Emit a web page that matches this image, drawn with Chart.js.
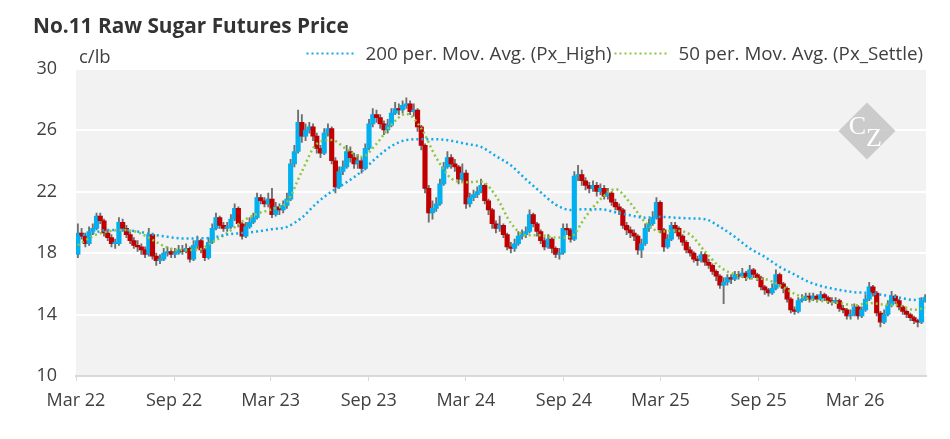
<!DOCTYPE html>
<html><head><meta charset="utf-8">
<script src="https://cdn.jsdelivr.net/npm/chart.js@4.4.1/dist/chart.umd.min.js"></script>
<style>html,body{margin:0;padding:0;background:#fff}#wrap{width:950px;height:439px}</style>
</head><body><div id="wrap"><canvas id="c" width="950" height="439"></canvas></div>
<script>
const chartTitle = 'No.11 Raw Sugar Futures Price';
const unitLabel = 'c/lb';
const seriesNames = ['200 per. Mov. Avg. (Px_High)', '50 per. Mov. Avg. (Px_Settle)'];
const startDate = '2022-03-01';
const endDate = '2026-07-12';
const tickDates = ['2022-03-01','2022-09-01','2023-03-01','2023-09-01','2024-03-01','2024-09-01','2025-03-01','2025-09-01','2026-03-01'];
const tickLabels = ['Mar 22','Sep 22','Mar 23','Sep 23','Mar 24','Sep 24','Mar 25','Sep 25','Mar 26'];
const yTicks = [10,14,18,22,26,30];

// weekly candles (week 0 = week starting 2022-03-01)
const openPx = [17.9,19.3,19.1,18.6,19.4,19.6,20.4,20.1,19.3,19.0,
18.6,18.6,20.0,19.6,19.2,18.8,18.5,18.4,18.2,17.9,
19.2,17.8,17.5,17.6,18.0,18.1,17.9,18.0,18.2,18.1,
18.3,17.6,18.5,18.8,18.2,17.7,18.7,19.6,20.3,19.8,
19.6,19.7,20.2,20.9,19.9,19.1,19.7,20.0,20.3,21.6,
21.4,21.2,21.5,20.5,21.0,20.8,21.1,21.5,23.8,24.6,
26.5,25.6,26.0,26.2,25.6,24.8,24.5,25.8,26.1,24.0,
22.3,23.3,23.6,24.6,24.2,23.8,24.0,23.5,24.8,26.4,
27.0,26.8,26.4,26.0,26.3,27.1,27.4,27.3,27.6,27.7,
27.2,27.3,26.2,25.0,22.2,20.6,20.9,21.2,22.5,23.6,
24.2,23.8,23.6,22.8,23.2,21.2,21.6,21.8,22.0,22.4,
21.4,20.8,19.9,19.6,19.8,19.2,18.4,18.3,18.6,19.1,
19.2,19.4,20.5,19.9,19.4,18.8,18.4,18.9,18.3,17.9,
18.0,19.6,19.5,18.9,23.0,23.1,22.7,22.4,22.2,22.4,
22.0,22.2,21.7,21.9,21.3,21.0,20.8,19.8,19.5,19.3,
19.1,18.2,18.6,19.6,19.9,20.3,21.3,19.5,18.4,18.9,
19.8,19.6,19.1,18.7,18.2,18.0,17.6,17.5,17.9,17.4,
17.2,16.8,16.5,15.9,16.1,16.4,16.3,16.6,16.5,16.7,
16.4,16.9,16.6,16.4,15.8,15.6,15.4,15.7,16.6,16.0,
15.7,15.0,14.3,14.2,14.9,15.0,15.2,15.0,15.2,15.0,
15.3,15.1,14.9,14.8,14.9,14.4,14.3,13.9,14.0,14.5,
13.9,14.3,15.0,15.8,15.4,14.1,13.5,14.0,14.6,15.2,
14.9,14.5,14.2,14.0,13.8,13.6,13.5,14.9];
const highPx = [19.9,19.6,19.3,19.7,19.9,20.6,20.6,20.2,19.5,19.2,
18.9,20.3,20.2,19.8,19.4,19.0,18.8,18.6,18.4,19.6,
19.3,18.0,17.9,18.3,18.4,18.3,18.3,18.5,18.5,18.6,
18.4,18.8,19.1,18.9,18.3,19.0,19.9,20.6,20.4,20.0,
20.0,20.5,21.2,21.0,20.0,20.0,20.3,20.6,21.9,21.8,
21.6,21.9,22.2,21.3,21.2,21.4,21.9,24.1,25.0,27.3,
27.0,26.4,26.5,26.4,25.8,25.0,26.1,26.4,26.2,24.2,
23.6,24.0,25.0,24.9,24.5,24.4,24.2,25.1,26.7,27.4,
27.3,27.0,26.6,26.7,27.4,27.8,27.7,27.9,28.1,27.9,
27.7,27.4,26.3,25.1,22.4,21.4,21.6,22.8,23.9,24.6,
24.4,24.1,23.7,23.8,23.4,21.9,22.1,22.3,22.8,22.5,
21.5,20.9,20.1,20.4,19.9,19.3,18.7,18.9,19.4,19.5,
19.7,20.8,20.6,20.0,19.5,19.0,19.2,19.0,18.4,18.3,
19.9,19.9,19.6,23.3,23.7,23.4,22.9,22.6,22.7,22.6,
22.5,22.4,22.2,22.0,21.5,21.2,20.9,20.0,19.7,19.5,
19.2,18.9,19.9,20.2,20.7,21.6,21.4,19.6,19.2,20.0,
20.0,19.7,19.2,18.8,18.4,18.1,17.8,18.1,18.0,17.6,
17.3,16.9,16.6,16.4,16.6,16.6,16.8,16.8,17.0,16.8,
17.2,17.0,16.7,16.5,15.9,15.7,16.0,16.9,16.7,16.1,
15.8,15.1,14.5,15.1,15.3,15.4,15.4,15.4,15.3,15.5,
15.4,15.2,15.1,15.1,15.0,14.6,14.4,14.3,14.7,14.6,
14.5,15.3,16.1,15.9,15.5,14.2,14.3,14.9,15.5,15.3,
15.0,14.6,14.3,14.1,13.9,13.7,15.1,15.3];
const lowPx = [17.7,18.9,18.4,18.5,19.2,19.5,19.9,19.1,18.8,18.4,
18.3,18.5,19.4,19.0,18.6,18.3,18.1,17.9,17.7,17.8,
17.6,17.2,17.3,17.5,17.8,17.7,17.7,17.9,17.9,18.0,
17.4,17.5,18.3,18.0,17.5,17.6,18.6,19.5,19.6,19.4,
19.4,19.6,20.1,19.7,18.9,19.0,19.6,19.9,20.2,21.2,
21.0,21.0,20.3,20.4,20.5,20.6,20.9,21.4,23.6,24.5,
25.2,25.3,25.8,25.3,24.5,24.2,24.4,25.6,23.8,21.9,
22.2,23.1,23.5,23.9,23.5,23.5,23.2,23.4,24.7,26.2,
26.5,26.1,25.7,25.8,26.2,27.0,27.0,27.1,27.4,27.0,
26.9,25.9,24.7,21.9,20.0,20.2,20.7,21.1,22.4,23.5,
23.5,23.3,22.5,22.6,20.9,21.0,21.4,21.6,21.9,21.2,
20.5,19.6,19.3,19.4,19.0,18.2,18.0,18.1,18.5,18.9,
19.0,19.3,19.7,19.1,18.6,18.2,18.3,18.0,17.7,17.6,
17.9,19.2,18.7,18.8,22.7,22.4,22.1,21.9,22.0,21.7,
21.8,21.5,21.5,21.1,20.8,20.5,19.6,19.2,19.0,18.8,
17.9,17.7,18.5,19.4,19.8,20.2,19.3,18.1,18.3,18.8,
19.3,18.9,18.5,18.0,17.8,17.4,17.2,17.4,17.2,17.0,
16.6,16.2,15.7,14.7,15.9,16.0,16.2,16.3,16.4,16.2,
16.3,16.4,16.2,15.6,15.3,15.2,15.3,15.6,15.8,15.4,
14.8,14.1,14.0,14.1,14.8,14.9,14.8,14.9,14.8,14.9,
14.9,14.7,14.6,14.7,14.2,14.1,13.7,13.7,13.9,13.7,
13.8,14.2,14.9,15.2,13.9,13.2,13.4,13.9,14.5,14.7,
14.3,14.0,13.8,13.6,13.4,13.2,13.4,14.8];
const closePx = [19.3,19.1,18.6,19.4,19.6,20.4,20.1,19.3,19.0,18.6,
18.6,20.0,19.6,19.2,18.8,18.5,18.4,18.2,17.9,19.2,
17.8,17.5,17.6,18.0,18.1,17.9,18.0,18.2,18.1,18.3,
17.6,18.5,18.8,18.2,17.7,18.7,19.6,20.3,19.8,19.6,
19.7,20.2,20.9,19.9,19.1,19.7,20.0,20.3,21.6,21.4,
21.2,21.5,20.5,21.0,20.8,21.1,21.5,23.8,24.6,26.5,
25.6,26.0,26.2,25.6,24.8,24.5,25.8,26.1,24.0,22.3,
23.3,23.6,24.6,24.2,23.8,24.0,23.5,24.8,26.4,27.0,
26.8,26.4,26.0,26.3,27.1,27.4,27.3,27.6,27.7,27.2,
27.3,26.2,25.0,22.2,20.6,20.9,21.2,22.5,23.6,24.2,
23.8,23.6,22.8,23.2,21.2,21.6,21.8,22.0,22.4,21.4,
20.8,19.9,19.6,19.8,19.2,18.4,18.3,18.6,19.1,19.2,
19.4,20.5,19.9,19.4,18.8,18.4,18.9,18.3,17.9,18.0,
19.6,19.5,18.9,23.0,23.1,22.7,22.4,22.2,22.4,22.0,
22.2,21.7,21.9,21.3,21.0,20.8,19.8,19.5,19.3,19.1,
18.2,18.6,19.6,19.9,20.3,21.3,19.5,18.4,18.9,19.8,
19.6,19.1,18.7,18.2,18.0,17.6,17.5,17.9,17.4,17.2,
16.8,16.5,15.9,16.1,16.4,16.3,16.6,16.5,16.7,16.4,
16.9,16.6,16.4,15.8,15.6,15.4,15.7,16.6,16.0,15.7,
15.0,14.3,14.2,14.9,15.0,15.2,15.0,15.2,15.0,15.3,
15.1,14.9,14.8,14.9,14.4,14.3,13.9,14.0,14.5,13.9,
14.3,15.0,15.8,15.4,14.1,13.5,14.0,14.6,15.2,14.9,
14.5,14.2,14.0,13.8,13.6,13.5,14.9,15.1];

// moving averages read every 4 weeks
const maWeeks = [0,4,8,12,16,20,24,28,32,36,40,44,48,52,56,60,64,68,72,76,80,84,88,92,96,100,104,108,112,116,120,124,128,132,136,140,144,148,152,156,160,164,168,172,176,180,184,188,192,196,200,204,208,212,216,220,224,227];
const ma200High = [19.1,19.3,19.5,19.5,19.4,19.2,19.05,18.95,18.95,19.0,
19.2,19.3,19.4,19.55,19.7,20.3,21.25,22.0,22.6,23.3,
24.2,24.95,25.35,25.4,25.4,25.3,25.1,24.9,24.3,23.7,
22.8,21.95,21.15,20.8,20.85,20.85,20.65,20.45,20.3,20.35,
20.3,20.25,20.2,19.7,19.05,18.3,17.75,17.1,16.6,16.1,
15.8,15.6,15.45,15.4,15.25,15.1,14.95,15.1];
const ma50Settle = [18.5,19.1,19.4,19.5,19.35,18.85,18.35,18.2,18.2,18.7,
19.3,20.05,20.55,20.85,21.3,23.3,25.1,25.35,24.75,24.25,
25.1,26.35,27.05,26.1,24.2,22.85,22.6,22.65,21.7,19.95,
19.15,19.15,19.0,19.05,20.35,21.5,22.15,21.25,20.0,19.4,
19.45,19.2,18.1,17.1,16.6,16.35,16.3,15.9,15.35,15.0,
14.85,14.75,14.6,14.75,14.65,14.6,14.3,14.45];

const DAY = 864e5;
const t0 = Date.parse(startDate);
const dayOf = d => (Date.parse(d) - t0) / DAY;
const weekX = w => w * 7 + 3.5;

const COL_UP = '#00B0F0', COL_DN = '#C00000', COL_WICK = '#6E6E6E';
const COL_MA200 = '#11A9EC', COL_MA50 = '#8CC63F';
const FONT = '"Open Sans", "DejaVu Sans", sans-serif';
const DASH = [2, 3];

const bodies = closePx.map((c, i) => ({x: weekX(i), y: [openPx[i], c]}));
const wicks = closePx.map((c, i) => ({x: weekX(i), y: [lowPx[i], highPx[i]]}));
const ma200Data = maWeeks.map((w, i) => ({x: weekX(w), y: ma200High[i]}));
const ma50Data = maWeeks.map((w, i) => ({x: weekX(w), y: ma50Settle[i]}));

const plotBg = {
  id: 'plotBg',
  beforeDraw(chart) {
    const {ctx, chartArea: a} = chart;
    ctx.save();
    ctx.fillStyle = '#F2F2F2';
    ctx.fillRect(a.left, a.top + 1, a.right - a.left, a.bottom - a.top - 1);
    ctx.restore();
  },
  beforeDatasetsDraw(chart) {
    const {ctx, chartArea: a} = chart;
    const cx = a.right - 59, cy = a.top + 62.5, r = 28.5;
    ctx.save();
    ctx.globalAlpha = 0.85;
    ctx.fillStyle = '#C4C4C4';
    ctx.beginPath();
    ctx.moveTo(cx, cy - r); ctx.lineTo(cx + r, cy); ctx.lineTo(cx, cy + r); ctx.lineTo(cx - r, cy);
    ctx.closePath(); ctx.fill();
    ctx.globalAlpha = 1;
    ctx.fillStyle = '#FFFFFF';
    ctx.font = '26px "Liberation Serif", "DejaVu Serif", serif';
    ctx.textAlign = 'center'; ctx.textBaseline = 'alphabetic';
    ctx.fillText('C', cx - 9.5, cy + 3);
    ctx.fillText('Z', cx + 7, cy + 15);
    ctx.restore();
  }
};

const decor = {
  id: 'decor',
  afterDraw(chart) {
    const ctx = chart.ctx;
    ctx.save();
    ctx.fillStyle = '#333333';
    ctx.font = 'bold 20.8px ' + FONT;
    ctx.textBaseline = 'alphabetic'; ctx.textAlign = 'left';
    ctx.fillText(chartTitle, 33, 32.5);
    ctx.fillStyle = '#404040';
    ctx.font = '18.5px ' + FONT;
    ctx.fillText(unitLabel, 79, 62.5);
    // legend, right aligned
    ctx.font = '18.8px ' + FONT;
    const w2 = ctx.measureText(seriesNames[1]).width;
    const w1 = ctx.measureText(seriesNames[0]).width;
    const t2 = 923 - w2;
    const s2b = t2 - 9, s2a = s2b - 55;
    const t1 = s2a - 3 - w1;
    const s1b = t1 - 9, s1a = s1b - 50;
    ctx.fillText(seriesNames[1], t2, 59.5);
    ctx.fillText(seriesNames[0], t1, 59.5);
    ctx.lineWidth = 2.2; ctx.setLineDash(DASH);
    ctx.strokeStyle = COL_MA200;
    ctx.beginPath(); ctx.moveTo(s1a, 53.5); ctx.lineTo(s1b, 53.5); ctx.stroke();
    ctx.strokeStyle = COL_MA50;
    ctx.beginPath(); ctx.moveTo(s2a, 53.5); ctx.lineTo(s2b, 53.5); ctx.stroke();
    ctx.restore();
  }
};

new Chart(document.getElementById('c'), {
  type: 'bar',
  data: {
    datasets: [
      {type: 'line', label: seriesNames[0], data: ma200Data, borderColor: COL_MA200, borderWidth: 2.5,
       borderDash: DASH, pointRadius: 0, cubicInterpolationMode: 'monotone', fill: false, order: 0},
      {type: 'line', label: seriesNames[1], data: ma50Data, borderColor: COL_MA50, borderWidth: 2.5,
       borderDash: DASH, pointRadius: 0, cubicInterpolationMode: 'monotone', fill: false, order: 0},
      {type: 'bar', label: 'Body', data: bodies, barThickness: 4.5, grouped: false, minBarLength: 1.5,
       backgroundColor: ctx => { const i = ctx.dataIndex; return closePx[i] >= openPx[i] ? COL_UP : COL_DN; },
       order: 1},
      {type: 'bar', label: 'Wick', data: wicks, barThickness: 1.2, grouped: false,
       backgroundColor: COL_WICK, order: 2}
    ]
  },
  options: {
    responsive: false,
    animation: false,
    events: [],
    layout: {padding: {left: 0, right: 24, top: 68.5, bottom: 0}},
    plugins: {legend: {display: false}, tooltip: {enabled: false}, title: {display: false}},
    scales: {
      x: {
        type: 'linear', offset: false,
        min: 0, max: dayOf(endDate),
        afterBuildTicks: s => { s.ticks = tickDates.map(d => ({value: dayOf(d)})); },
        afterFit: s => { s.height = 63; },
        ticks: {
          autoSkip: false, maxRotation: 0, padding: 9, color: '#404040',
          font: {family: FONT, size: 18},
          callback: (v, i) => tickLabels[i]
        },
        grid: {offset: false, drawOnChartArea: false, drawTicks: true, tickLength: 5, tickColor: '#D9D9D9', tickWidth: 1},
        border: {display: true, color: '#D9D9D9', width: 2}
      },
      y: {
        min: 10, max: 30,
        afterBuildTicks: s => { s.ticks = yTicks.map(v => ({value: v})); },
        afterFit: s => { s.width = 76; },
        ticks: {padding: 19, color: '#404040', font: {family: FONT, size: 18}},
        grid: {offset: false, drawTicks: false, lineWidth: 2, color: c => (c.tick && c.tick.value === 10) ? '#D9D9D9' : '#FFFFFF'},
        border: {display: false}
      }
    }
  },
  plugins: [plotBg, decor]
});
</script>
</body></html>
